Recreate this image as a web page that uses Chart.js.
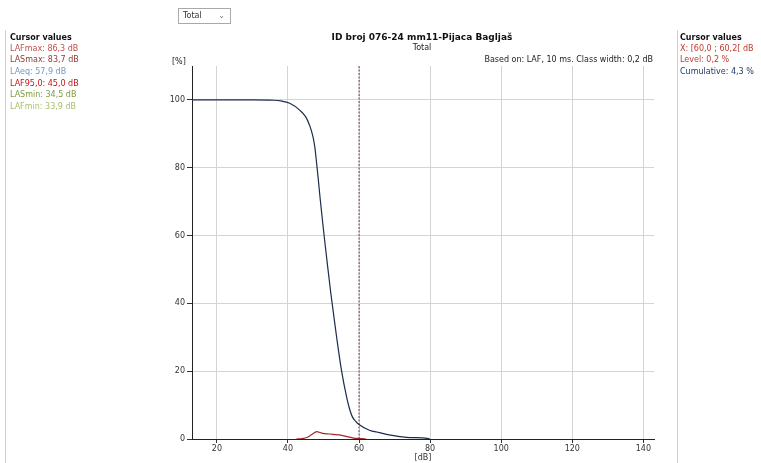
<!DOCTYPE html>
<html>
<head>
<meta charset="utf-8">
<script src="https://cdn.jsdelivr.net/npm/chart.js@4/dist/chart.umd.min.js"></script>
<style>
html,body{margin:0;padding:0;background:#fff;width:761px;height:463px;overflow:hidden;font-family:"DejaVu Sans",sans-serif;}
#wrap{position:absolute;left:0;top:0;width:761px;height:463px;}
canvas{position:absolute;left:0;top:0;}
.t{position:absolute;white-space:nowrap;font-size:8px;line-height:10px;}
.b{font-weight:bold;color:#111;}
.sep{position:absolute;width:1px;background:#cfcfcf;top:30px;height:433px;}
#dd{position:absolute;left:178px;top:8px;width:53px;height:16px;border:1px solid #a9a9a9;box-sizing:border-box;font-size:8px;line-height:14px;padding-left:4px;color:#333;}
#dd span{position:absolute;right:5px;top:0;color:#777;font-size:8px;}
</style>
</head>
<body>
<div id="wrap">
<canvas id="c" width="761" height="463"></canvas>
<div id="dd">Total<span>&#8964;</span></div>
<div class="sep" style="left:5px"></div>
<div class="sep" style="left:677px"></div>
<div class="t b" style="left:10px;top:33px">Cursor values</div>
<div class="t" style="left:10px;top:44px;color:#c0504d">LAFmax: 86,3 dB</div>
<div class="t" style="left:10px;top:55px;color:#953735">LASmax: 83,7 dB</div>
<div class="t" style="left:10px;top:67px;color:#6f9bc8">LAeq: 57,9 dB</div>
<div class="t" style="left:10px;top:79px;color:#c0141c">LAF95,0: 45,0 dB</div>
<div class="t" style="left:10px;top:90px;color:#7f9a3a">LASmin: 34,5 dB</div>
<div class="t" style="left:10px;top:102px;color:#a6c167">LAFmin: 33,9 dB</div>
<div class="t b" style="left:680px;top:33px">Cursor values</div>
<div class="t" style="left:680px;top:44px;color:#c0392b">X: [60,0 ; 60,2[ dB</div>
<div class="t" style="left:680px;top:55px;color:#c0392b">Level: 0,2 %</div>
<div class="t" style="left:680px;top:67px;color:#1f3a6a">Cumulative: 4,3 %</div>
<div class="t b" style="left:422px;top:32px;transform:translateX(-50%);font-size:9px">ID broj 076-24 mm11-Pijaca Bagljaš</div>
<div class="t" style="left:422px;top:43px;transform:translateX(-50%);color:#222">Total</div>
<div class="t" style="right:108px;top:55px;color:#222">Based on: LAF, 10 ms. Class width: 0,2 dB</div>
<div class="t" style="left:172px;top:57px;color:#222">[%]</div>
</div>
<script>
// ---- data ----
const xTicks = [20, 40, 60, 80, 100, 120, 140];
const yTicks = [0, 20, 40, 60, 80, 100];
const cumDb  = [13, 30, 36, 38, 40.5, 43.3, 45, 46.2, 47, 47.5, 48, 48.5, 49, 49.7, 50.5, 51.1, 52, 52.5, 53.7, 55.1, 56.5, 57.3, 58.1, 59, 60, 62.9, 65.7, 68.5, 73.3, 79.2, 80];
const cumPct = [100, 100, 99.9, 99.7, 99, 97, 95, 92.2, 89.3, 86.5, 82, 77, 71.5, 64.5, 57, 51.5, 43.5, 39.5, 30, 20, 12.4, 9, 6.6, 5.3, 4.3, 2.6, 1.9, 1.2, 0.5, 0.2, 0];
const lvlDb  = [42.4, 44, 45.5, 46.9, 48.1, 49.5, 51.7, 54.5, 56.7, 58.7, 60, 62];
const lvlPct = [0, 0.1, 0.5, 1.5, 2.15, 1.75, 1.47, 1.2, 0.7, 0.2, 0.2, 0];
const cursorDb = 60;
const xMin = 13, xMax = 143, yMin = 0, yMax = 110;

const pts = (xs, ys) => xs.map((x, i) => ({x: x, y: ys[i]}));
const font = {family: "DejaVu Sans", size: 8};

new Chart(document.getElementById('c'), {
  type: 'line',
  data: {
    datasets: [
      {data: pts(cumDb, cumPct), borderColor: '#1c2c4c', borderWidth: 1.2, pointRadius: 0, cubicInterpolationMode: 'monotone'},
      {data: pts(lvlDb, lvlPct), borderColor: '#a0282a', borderWidth: 1.2, pointRadius: 0, tension: 0.2},
      {data: [{x: cursorDb, y: yMin}, {x: cursorDb, y: yMax}], borderColor: '#7a5a78', borderWidth: 1.2, borderDash: [2, 1.5], pointRadius: 0}
    ]
  },
  options: {
    responsive: false,
    animation: false,
    devicePixelRatio: 1,
    layout: {padding: {left: 0, right: 107, top: 66, bottom: 0}},
    plugins: {legend: {display: false}, tooltip: {enabled: false}},
    scales: {
      x: {
        type: 'linear', min: xMin, max: xMax,
        afterBuildTicks: s => { s.ticks = xTicks.map(v => ({value: v})); },
        afterFit: s => { s.height = 24; },
        grid: {color: '#d4d4d4', tickColor: '#333', tickLength: 4, lineWidth: 1},
        border: {color: '#222', width: 1},
        ticks: {font: font, color: '#333', padding: 1, maxRotation: 0},
        title: {display: true, text: '[dB]', font: font, color: '#333', padding: {top: 0, bottom: 0}}
      },
      y: {
        type: 'linear', min: yMin, max: yMax,
        afterBuildTicks: s => { s.ticks = yTicks.map(v => ({value: v})); },
        afterFit: s => { s.width = 192; },
        grid: {color: '#d4d4d4', tickColor: '#333', tickLength: 5, lineWidth: 1},
        border: {color: '#222', width: 1},
        ticks: {font: font, color: '#333', padding: 2}
      }
    }
  }
});
</script>
</body>
</html>
